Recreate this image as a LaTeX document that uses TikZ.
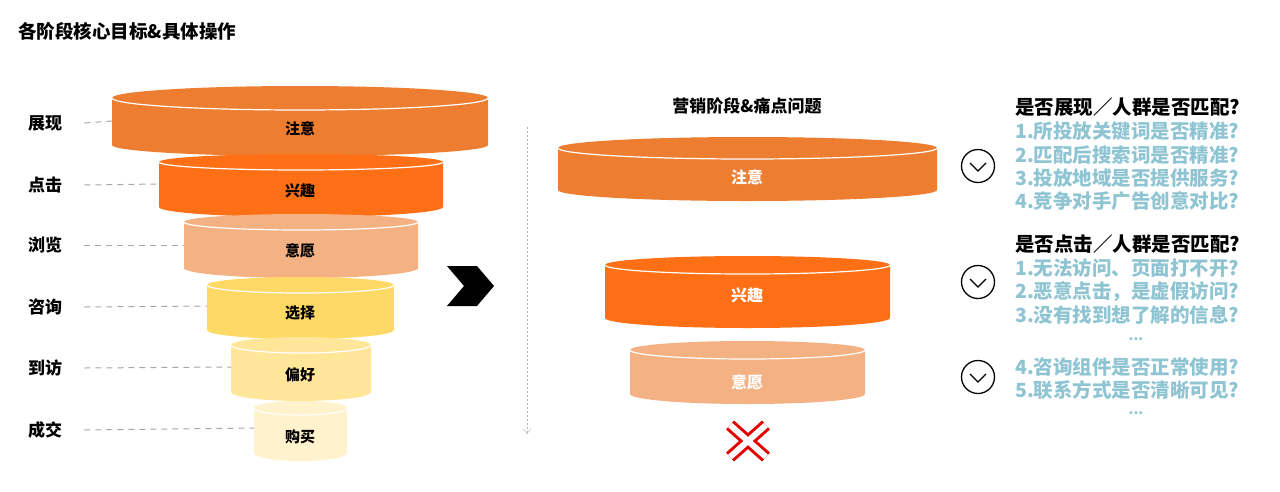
\documentclass[tikz,border=0pt]{standalone}
\usepackage{fontspec}
\setmainfont{Noto Sans CJK SC}
\usetikzlibrary{calc,arrows.meta}
\definecolor{c1}{HTML}{ED7D31}
\definecolor{c2}{HTML}{FF7016}
\definecolor{c3}{HTML}{F4B183}
\definecolor{c4}{HTML}{FFD966}
\definecolor{c5}{HTML}{FFE699}
\definecolor{c6}{HTML}{FFF2CC}
\definecolor{qblue}{HTML}{8FC4D2}
% #1 color #2 x1 #3 x2 #4 ytop #5 ybot #6 ry top #7 ry bot
\newcommand\mycyl[7]{%
  \pgfmathsetmacro\rx{(#3-#2)/2}%
  \fill[#1] (#2,#4) -- (#2,#5) arc(180:360:\rx pt and #7pt) -- (#3,#4) arc(0:180:\rx pt and #6pt) -- cycle;
  \fill[#1] (#2,#4) arc(180:360:\rx pt and #6pt) -- cycle;
  \draw[white,line width=1.2pt] (#2,#4) arc(180:360:\rx pt and #6pt);
}
\tikzset{
  lab/.style={font=\bfseries\fontsize{17}{19}\selectfont,anchor=west,inner sep=0},
  ctext/.style={font=\bfseries\fontsize{15}{17}\selectfont,inner sep=0},
  wtext/.style={font=\bfseries\fontsize{16}{18}\selectfont,text=white,inner sep=0},
  conn/.style={draw=gray!70,dashed,line width=1pt,dash pattern=on 6pt off 5pt},
  qhead/.style={font=\bfseries\fontsize{19.5}{22}\selectfont,anchor=west,inner sep=0},
  qline/.style={font=\bfseries\fontsize{19.5}{22}\selectfont,text=qblue,anchor=west,inner sep=0},
  dots/.style={font=\bfseries\fontsize{14}{14}\selectfont,text=qblue,inner sep=0},
  circ/.style={draw,circle,line width=1.3pt,minimum size=33pt,inner sep=0},
}
\begin{document}
\begin{tikzpicture}[x=1pt,y=-1pt]
\useasboundingbox (0,0) rectangle (1280,491);
\node[font=\bfseries\fontsize{18.5}{21}\selectfont,anchor=west,inner sep=0] (title) at (18,31) {各阶段核心目标\&具体操作};
% left funnel
\mycyl{c1}{112}{488}{98}{145}{12}{11}
\mycyl{c2}{159}{443}{162}{207}{8}{10}
\mycyl{c3}{184}{418}{222}{268}{8}{10}
\mycyl{c4}{207}{394}{285}{330}{8}{9}
\mycyl{c5}{231}{371}{345}{392}{8}{9}
\mycyl{c6}{254}{347}{408}{453}{7}{8}
\node[ctext] (f1) at (300,129) {注意};
\node[ctext] (f2) at (300,191) {兴趣};
\node[ctext] (f3) at (300,251) {意愿};
\node[ctext] (f4) at (300,313) {选择};
\node[ctext] (f5) at (300,375) {偏好};
\node[ctext] (f6) at (300,437) {购买};
\node[lab] (l1) at (28,123) {展现};
\node[lab] (l2) at (28,185) {点击};
\node[lab] (l3) at (28,245) {浏览};
\node[lab] (l4) at (28,307) {咨询};
\node[lab] (l5) at (28,368) {到访};
\node[lab] (l6) at (28,430) {成交};
\coordinate (e1) at (112,121);
\coordinate (e2) at (159,184);
\coordinate (e3) at (184,245);
\coordinate (e4) at (207,306);
\coordinate (e5) at (231,367);
\coordinate (e6) at (254,428);
\foreach \i in {1,...,6}{\draw[conn] ($(l\i.east)+(22,0)$) -- (e\i);}
% chevron
\fill (447,266) -- (477,266) -- (494,286) -- (477,306) -- (447,306) -- (464,286) -- cycle;
% vertical dashed arrow
\coordinate (va) at (527,127);
\coordinate (vb) at (527,434);
\draw[gray!60,dashed,dash pattern=on 2pt off 2pt,-{Straight Barb[length=5pt,width=8pt]}] (va) -- (vb);
% right funnel
\node[font=\bfseries\fontsize{17}{19}\selectfont,inner sep=0] (rt) at (747,106) {营销阶段\&痛点问题};
\mycyl{c1}{558}{937}{148}{190}{11}{11}
\mycyl{c2}{605}{890}{265}{318}{9}{10}
\mycyl{c3}{630}{865}{350}{394}{9}{10}
\node[wtext] (r1) at (747,177) {注意};
\node[wtext] (r2) at (747,295) {兴趣};
\node[wtext] (r3) at (747,382) {意愿};
\coordinate (xa) at (730,425); \coordinate (xb) at (766,457);
\coordinate (xc) at (730,457); \coordinate (xd) at (766,425);
\draw[red!90!black,line width=12pt] (xa) -- (xb) (xc) -- (xd);
\draw[white,line width=6pt] (xa) -- (xb) (xc) -- (xd);
% circles
\foreach \n/\y in {k1/166,k2/282,k3/377}{
  \node[circ] (\n) at (978,\y) {};
  \draw[line width=1.3pt] ($(\n)+(-8,-3)$) -- ($(\n)+(0,5)$) -- ($(\n)+(8,-3)$);
}
% questions
\node[qhead] (h1) at (1015,107) {是否展现／人群是否匹配?};
\node[qline] (q1) at (1015,131) {1.所投放关键词是否精准?};
\node[qline] (q2) at (1015,155) {2.匹配后搜索词是否精准?};
\node[qline] (q3) at (1015,178) {3.投放地域是否提供服务?};
\node[qline] (q4) at (1015,201) {4.竞争对手广告创意对比?};
\node[qhead] (h2) at (1015,244) {是否点击／人群是否匹配?};
\node[qline] (q5) at (1015,268) {1.无法访问、页面打不开?};
\node[qline] (q6) at (1015,292) {2.恶意点击，是虚假访问?};
\node[qline] (q7) at (1015,315) {3.没有找到想了解的信息?};
\node[dots] (d1) at (1136,339) {...};
\node[qline] (q8) at (1015,367) {4.咨询组件是否正常使用?};
\node[qline] (q9) at (1015,390) {5.联系方式是否清晰可见?};
\node[dots] (d2) at (1136,413) {...};
\end{tikzpicture}
\end{document}
